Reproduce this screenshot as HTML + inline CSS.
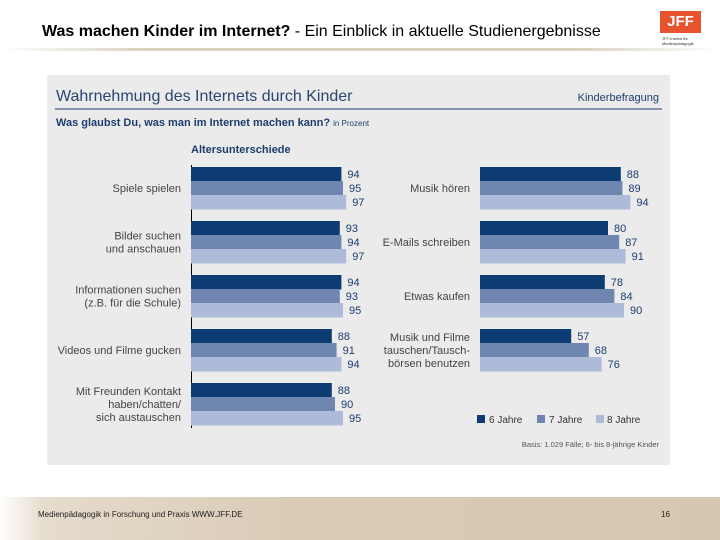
<!DOCTYPE html>
<html><head><meta charset="utf-8"><style>
body{margin:0;width:720px;height:540px;overflow:hidden;background:#fff;font-family:"Liberation Sans",sans-serif;position:relative}
</style></head><body>
<div style="position:absolute;left:42px;top:23px;font-size:16px;color:#000"><b>Was machen Kinder im Internet?</b> - Ein Einblick in aktuelle Studienergebnisse</div>
<div style="position:absolute;left:0;top:48px;width:720px;height:3px;background:linear-gradient(90deg,#fff,#d8d2bf 20%,#d8d2bf 80%,#fff)"></div>
<div style="position:absolute;left:660px;top:11px;width:41px;height:22px;background:#e8532f;color:#fff;font-weight:bold;font-size:15px;line-height:22px;text-align:center">JFF</div>
<div style="position:absolute;left:662px;top:36px;font-size:4px;color:#333;line-height:5px">JFF-Institut für<br>Medienpädagogik</div>
<div style="position:absolute;left:0;top:497px;width:720px;height:43px;background:linear-gradient(90deg,#fff 0%,#e6dccd 6%,#d9cbb6 40%,#d6c7b0 100%)"></div>
<div style="position:absolute;left:38px;top:510px;font-size:8px;color:#222">Medienpädagogik in Forschung und Praxis WWW.JFF.DE</div>
<div style="position:absolute;left:661px;top:510px;font-size:8px;color:#222">16</div>
<svg id="chart" width="720" height="540" style="position:absolute;left:0;top:0">
<rect x="47" y="75" width="623" height="390" fill="#ebebeb"/>
<text x="56" y="101" font-size="16" fill="#2a4570">Wahrnehmung des Internets durch Kinder</text>
<text x="659" y="101" font-size="11" fill="#1d3d6e" text-anchor="end">Kinderbefragung</text>
<line x1="55" y1="109" x2="662" y2="109" stroke="#1d3d6e" stroke-width="1"/>
<text x="56" y="126" font-size="11" font-weight="bold" fill="#1d3d6e">Was glaubst Du, was man im Internet machen kann? <tspan font-size="8" font-weight="normal">in Prozent</tspan></text>
<text x="191" y="153" font-size="11" font-weight="bold" fill="#1d3d6e">Altersunterschiede</text>
<line x1="191.5" y1="165" x2="191.5" y2="428" stroke="#000" stroke-width="1"/>
<g id="bars"></g>
<rect x="477" y="415" width="8" height="8" fill="#0d3c73"/>
<text x="489" y="423" font-size="10" fill="#333">6 Jahre</text>
<rect x="537" y="415" width="8" height="8" fill="#6f87b0"/>
<text x="549" y="423" font-size="10" fill="#333">7 Jahre</text>
<rect x="596" y="415" width="8" height="8" fill="#aebbd8"/>
<text x="607" y="423" font-size="10" fill="#333">8 Jahre</text>
<text x="659" y="447" font-size="7.5" fill="#555" text-anchor="end">Basis: 1.029 Fälle; 6- bis 8-jährige Kinder</text>
</svg>
<script>
const leftCats=[["Spiele spielen"],["Bilder suchen","und anschauen"],["Informationen suchen","(z.B. für die Schule)"],["Videos und Filme gucken"],["Mit Freunden Kontakt","haben/chatten/","sich austauschen"]];
const leftAge6=[94,93,94,88,88];
const leftAge7=[95,94,93,91,90];
const leftAge8=[97,97,95,94,95];
const rightCats=[["Musik hören"],["E-Mails schreiben"],["Etwas kaufen"],["Musik und Filme","tauschen/Tausch-","börsen benutzen"]];
const rightAge6=[88,80,78,57];
const rightAge7=[89,87,84,68];
const rightAge8=[94,91,90,76];
const colors=["#0d3c73","#6f87b0","#aebbd8"];
const NS="http://www.w3.org/2000/svg";
const g=document.getElementById("bars");
function xScale(axis,v){return axis+v*1.6;}
function yGroup(i){return 167+i*54;}
function drawPanel(axis,cats,series,prefix){
  cats.forEach((lines,i)=>{
    const y0=yGroup(i);
    const lab=document.createElementNS(NS,"text");
    
    
    lab.setAttribute("x",axis-10);lab.setAttribute("text-anchor","end");
    lab.setAttribute("font-size","11");lab.setAttribute("fill","#444");
    const startY=y0+21-(lines.length-1)*6.5+4;
    lines.forEach((t,k)=>{const ts=document.createElementNS(NS,"tspan");ts.setAttribute("x",axis-10);ts.setAttribute("y",startY+k*13);ts.textContent=t;lab.appendChild(ts);});
    g.appendChild(lab);
    series.forEach((arr,s)=>{
      const v=arr[i];const y=y0+s*14;
      const r=document.createElementNS(NS,"rect");
      
      
      r.setAttribute("x",axis);r.setAttribute("y",y);r.setAttribute("width",xScale(axis,v)-axis);r.setAttribute("height",14.5);r.setAttribute("fill",colors[s]);
      g.appendChild(r);
      const t=document.createElementNS(NS,"text");
      
      
      t.setAttribute("x",xScale(axis,v)+6);t.setAttribute("y",y+11);t.setAttribute("font-size","11");t.setAttribute("fill","#1d3d6e");
      t.textContent=v;g.appendChild(t);
    });
  });
}
drawPanel(191,leftCats,[leftAge6,leftAge7,leftAge8],"left");
drawPanel(480,rightCats,[rightAge6,rightAge7,rightAge8],"right");
</script>
</body></html>
